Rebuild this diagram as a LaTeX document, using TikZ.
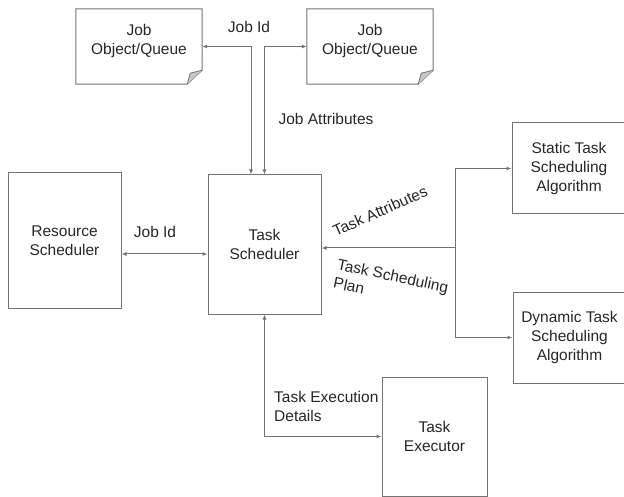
\documentclass[tikz,border=0pt]{standalone}
\usepackage{fontspec}
\setmainfont{Liberation Sans}
\usetikzlibrary{arrows.meta}
\definecolor{linec}{gray}{0.45}
\definecolor{txtc}{gray}{0.15}
\tikzset{
  box/.style={draw=linec,line width=1pt,align=center,text=txtc,minimum width=113pt,minimum height=135pt},
  docbox/.style={minimum width=126pt,minimum height=75pt},
  lbl/.style={text=txtc,align=left,inner sep=0pt},
  conn/.style={draw=linec,line width=1pt,{Latex[length=5pt,width=4pt]}-{Latex[length=5pt,width=4pt]}},
  oneway/.style={draw=linec,line width=1pt,-{Latex[length=5pt,width=4pt]}}
}
\begin{document}
\begin{tikzpicture}[x=1pt,y=-1pt,font=\fontsize{15.5}{19}\selectfont]
\useasboundingbox(0,0)rectangle(624,497);\clip(0,0)rectangle(624,497);
% queues
\node[docbox](job1)at(139,46.5){};\node[docbox](job2)at(370,46.5){};
\foreach\n in{job1,job2}{
  \draw[draw=linec,line width=1pt](\n.north west)--(\n.north east)--([yshift=14pt]\n.south east)--([xshift=-15pt]\n.south east)--(\n.south west)--cycle;
  \filldraw[draw=linec,line width=.8pt,fill=gray!45]([yshift=14pt]\n.south east)--([xshift=-12pt,yshift=11pt]\n.south east)--([xshift=-15pt]\n.south east);
  \node[text=txtc,align=center](\n t)at([yshift=6pt]\n.center){Job\\Object/Queue};}
% boxes
\node[box](res)at(64.5,240.5){Resource\\Scheduler};
\node[box,minimum height=139pt](sched)at(264.5,244.5){Task\\Scheduler};
\node[box,minimum width=114pt,minimum height=91pt](static)at(569,168.5){Static Task\\Scheduling\\Algorithm};
\node[box,minimum width=113pt,minimum height=91pt](dyn)at(569.5,337.5){Dynamic Task\\Scheduling\\Algorithm};
\node[box,minimum width=105pt,minimum height=119pt](exec)at(434.5,436.5){Task\\Executor};
% connectors
\draw[conn](job1.east)-|([xshift=-13.5pt]sched.north);
\draw[conn](job2.west)-|(sched.north);
\draw[conn]([yshift=-13.5pt]res.east)--([yshift=-13.5pt]res.east-|sched.west);
\coordinate(br)at(455,248);
\draw[oneway](br)--(br-|sched.east);
\draw[oneway](br)|-(static.west);\draw[oneway](br)|-(dyn.west);
\draw[conn](sched.south)|-(exec.west);
% labels
\node[lbl](l1)at(249,27){Job Id};
\node[lbl](l2)at(326,119){Job Attributes};
\node[lbl](l3)at(155,232){Job Id};
\node[lbl,rotate=24](l4)at(380,211){Task Attributes};
\node[lbl,rotate=-12](l5)at(391,285){Task Scheduling\\Plan};
\node[lbl,anchor=west](l6)at(274,406){Task Execution\\Details};
\end{tikzpicture}
\end{document}
